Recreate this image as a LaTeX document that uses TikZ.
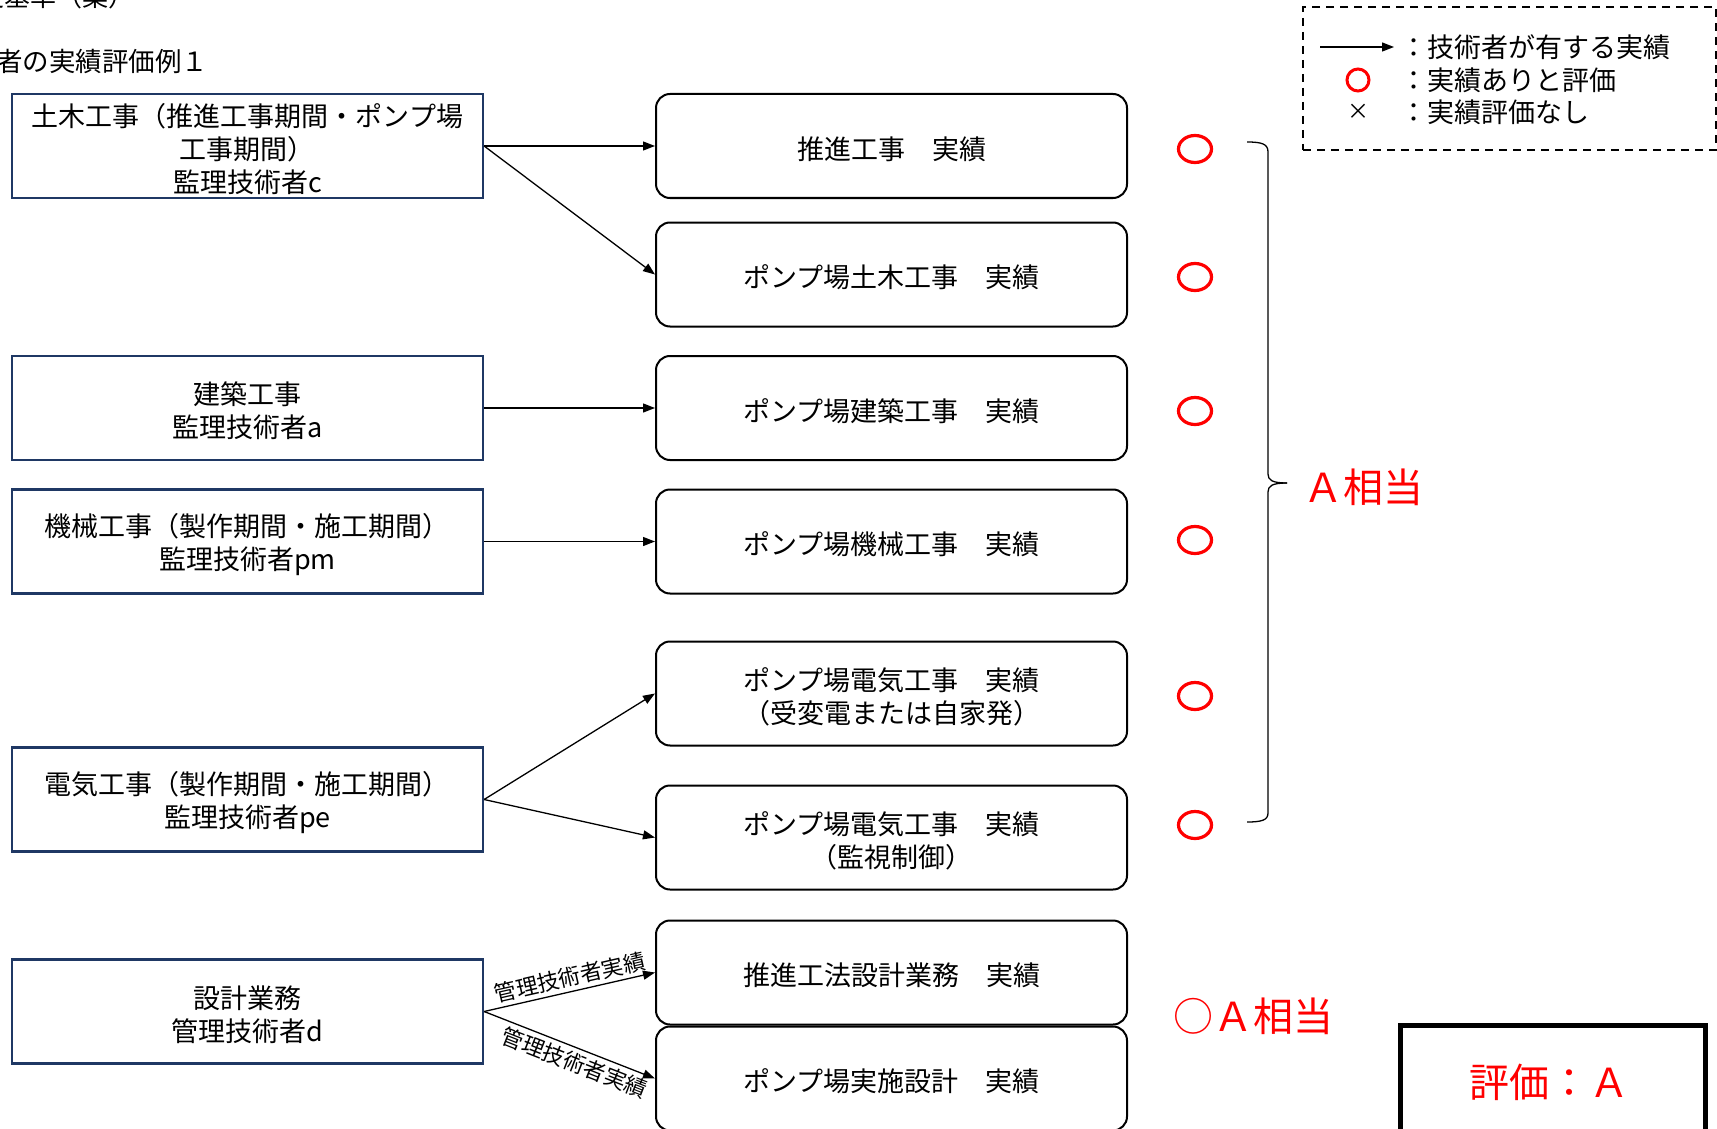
\documentclass[tikz,border=0pt]{standalone}
\usepackage{fontspec}
\setmainfont{Noto Sans CJK JP}
\usetikzlibrary{arrows.meta,shapes.geometric}
\definecolor{navy}{HTML}{1F3864}
\begin{document}
\begin{tikzpicture}[x=1pt,y=-1pt,
  lbox/.style={draw=navy, line width=2.2pt, minimum width=471pt, minimum height=104pt, inner sep=0pt},
  rbox/.style={draw=black, line width=2pt, rounded corners=14pt, minimum width=471pt, minimum height=104pt, inner sep=0pt},
  btext/.style={inner sep=0pt, align=center, font=\fontsize{27}{33}\selectfont},
  conn/.style={line width=1.3pt, -{Triangle[length=12pt,width=9pt]}},
  okmark/.style={draw=red, line width=3.2pt, ellipse, minimum width=33pt, minimum height=27pt, inner sep=0pt},
  redtext/.style={text=red, font=\fontsize{40}{44}\selectfont, inner sep=0pt},
  legtext/.style={font=\fontsize{27}{30}\selectfont, inner sep=0pt, anchor=west},
  armlabel/.style={font=\fontsize{22}{24}\selectfont, inner sep=3.5pt, sloped}
]
\useasboundingbox (0,0) rectangle (1717,1129);
\clip (0,0) rectangle (1717,1129);

% title lines (cut off at the left)
\node[font=\fontsize{26}{30}\selectfont, anchor=west, inner sep=0pt] (t1) at (-22,-3) {定基準（案）};
\node[font=\fontsize{26.5}{30}\selectfont, anchor=west, inner sep=0pt] (t2) at (-4,61) {者の実績評価例１};

% left boxes
\node[lbox] (L1) at (247.5,146) {};
\node[lbox] (L2) at (247.5,408) {};
\node[lbox] (L3) at (247.5,541.5) {};
\node[lbox] (L4) at (247.5,799.5) {};
\node[lbox] (L5) at (247.5,1011.5) {};
\node[btext] (L1t) at ([yshift=-3pt]L1.center) {土木工事（推進工事期間・ポンプ場\\工事期間）\\監理技術者c};
\node[btext] (L2t) at ([yshift=-3pt]L2.center) {建築工事\\監理技術者a};
\node[btext] (L3t) at ([yshift=-3pt]L3.center) {機械工事（製作期間・施工期間）\\監理技術者pm};
\node[btext] (L4t) at ([yshift=-3pt]L4.center) {電気工事（製作期間・施工期間）\\監理技術者pe};
\node[btext] (L5t) at ([yshift=-3pt]L5.center) {設計業務\\管理技術者d};

% right boxes
\node[rbox] (R1) at (891.5,146) {};
\node[rbox] (R2) at (891.5,274.5) {};
\node[rbox] (R3) at (891.5,408) {};
\node[rbox] (R4) at (891.5,541.5) {};
\node[rbox] (R5) at (891.5,693.5) {};
\node[rbox] (R6) at (891.5,837.5) {};
\node[rbox] (R7) at (891.5,972.5) {};
\node[rbox] (R8) at (891.5,1078.5) {};
\node[btext] (R1t) at ([yshift=-3pt]R1.center) {推進工事　実績};
\node[btext] (R2t) at ([yshift=-3pt]R2.center) {ポンプ場土木工事　実績};
\node[btext] (R3t) at ([yshift=-3pt]R3.center) {ポンプ場建築工事　実績};
\node[btext] (R4t) at ([yshift=-3pt]R4.center) {ポンプ場機械工事　実績};
\node[btext] (R5t) at ([yshift=-3pt]R5.center) {ポンプ場電気工事　実績\\（受変電または自家発）};
\node[btext] (R6t) at ([yshift=-3pt]R6.center) {ポンプ場電気工事　実績\\（監視制御）};
\node[btext] (R7t) at ([yshift=-3pt]R7.center) {推進工法設計業務　実績};
\node[btext] (R8t) at ([yshift=-3pt]R8.center) {ポンプ場実施設計　実績};

% connectors
\draw[conn] (L1.east) -- (R1.west);
\draw[conn] (L1.east) -- (R2.west);
\draw[conn] (L2.east) -- (R3.west);
\draw[conn] (L3.east) -- (R4.west);
\draw[conn] (L4.east) -- (R5.west);
\draw[conn] (L4.east) -- (R6.west);
\draw[conn] (L5.east) -- node[armlabel, above, pos=0.52] {管理技術者実績} (R7.west);
\draw[conn] (L5.east) -- node[armlabel, below, pos=0.56] {管理技術者実績} (R8.west);

% evaluation marks
\node[okmark] (c1) at (1195,149) {};
\node[okmark] (c2) at (1195,277) {};
\node[okmark] (c3) at (1195,411) {};
\node[okmark] (c4) at (1195,540) {};
\node[okmark] (c5) at (1195,696) {};
\node[okmark] (c6) at (1195,825) {};

% brace
\coordinate (bt) at (1247,142);
\coordinate (bb) at (1247,822);
\coordinate (bm) at (1287,483);
\draw[line width=1.3pt] (bt) .. controls (1262,142) and (1268,144) .. (1268,152) -- (1268,474) .. controls (1268,480) and (1272,483) .. (bm);
\draw[line width=1.3pt] (bm) .. controls (1272,483) and (1268,486) .. (1268,492) -- (1268,813) .. controls (1268,820) and (1262,822) .. (bb);
\node[redtext, anchor=west] (aeq) at (1303,487) {Ａ相当};

\node[redtext, anchor=west] (aeq2) at (1173,1016) {○Ａ相当};

% evaluation box
\node[draw=black, line width=5pt, minimum width=305pt, minimum height=130pt, inner sep=0pt, anchor=north west] (ev) at (1398,1023) {};
\node[redtext] (evt) at (1549,1082) {評価：Ａ};

% legend
\node[draw=black, dashed, line width=2pt, dash pattern=on 8pt off 6pt, minimum width=413pt, minimum height=143pt, inner sep=0pt, anchor=north west] (leg) at (1302,6) {};
\coordinate (la1) at (1320,47);
\coordinate (la2) at (1394,47);
\draw[conn] (la1) -- (la2);
\node[legtext] (lg1) at (1400,47) {：技術者が有する実績};
\node[draw=red, line width=3pt, circle, minimum size=22pt, inner sep=0pt] (lgc) at (1358,80) {};
\node[legtext] (lg2) at (1400,80) {：実績ありと評価};
\node[font=\fontsize{22}{24}\selectfont, inner sep=0pt] (lgx) at (1358,112) {×};
\node[legtext] (lg3) at (1400,112) {：実績評価なし};
\end{tikzpicture}
\end{document}
